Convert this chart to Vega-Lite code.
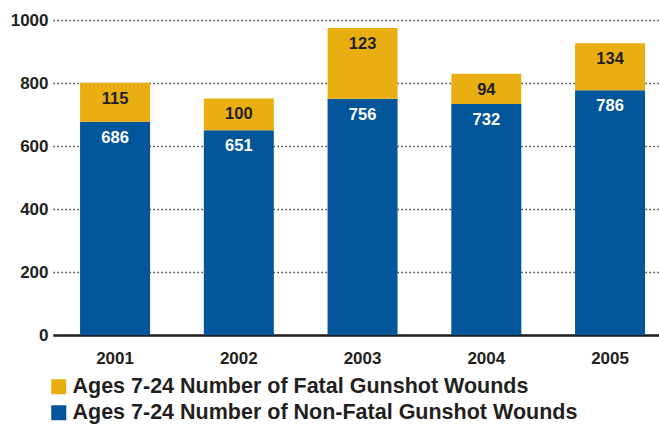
{
  "$schema": "https://vega.github.io/schema/vega-lite/v6.json",
  "width": 606,
  "height": 315,
  "autosize": "none",
  "padding": {"left": 53, "top": 20, "right": 0, "bottom": 89},
  "background": "white",
  "config": {
    "view": {"stroke": null},
    "font": "Liberation Sans",
    "text": {"font": "Liberation Sans"}
  },
  "data": {
    "values": [
      {"year": "2001", "type": "Ages 7-24 Number of Non-Fatal Gunshot Wounds", "value": 677, "label": "686"},
      {"year": "2001", "type": "Ages 7-24 Number of Fatal Gunshot Wounds", "value": 124, "label": "115"},
      {"year": "2002", "type": "Ages 7-24 Number of Non-Fatal Gunshot Wounds", "value": 650, "label": "651"},
      {"year": "2002", "type": "Ages 7-24 Number of Fatal Gunshot Wounds", "value": 101, "label": "100"},
      {"year": "2003", "type": "Ages 7-24 Number of Non-Fatal Gunshot Wounds", "value": 750, "label": "756"},
      {"year": "2003", "type": "Ages 7-24 Number of Fatal Gunshot Wounds", "value": 225, "label": "123"},
      {"year": "2004", "type": "Ages 7-24 Number of Non-Fatal Gunshot Wounds", "value": 733, "label": "732"},
      {"year": "2004", "type": "Ages 7-24 Number of Fatal Gunshot Wounds", "value": 96, "label": "94"},
      {"year": "2005", "type": "Ages 7-24 Number of Non-Fatal Gunshot Wounds", "value": 777, "label": "786"},
      {"year": "2005", "type": "Ages 7-24 Number of Fatal Gunshot Wounds", "value": 149, "label": "134"}
    ]
  },
  "encoding": {
    "x": {
      "field": "year", "type": "ordinal",
      "scale": {"paddingInner": 0.4343, "paddingOuter": 0.1657, "align": 0.66},
      "axis": {
        "title": null, "labelAngle": 0, "ticks": false,
        "domain": true, "domainColor": "#231f20", "domainWidth": 2.5,
        "labelFont": "Liberation Sans", "labelFontWeight": "bold", "labelFontSize": 17,
        "labelColor": "#231f20", "labelPadding": 15
      }
    },
    "y": {
      "field": "value", "type": "quantitative", "stack": "zero",
      "scale": {"domain": [0, 1000], "nice": false},
      "axis": {
        "title": null, "values": [0, 200, 400, 600, 800, 1000], "format": "d",
        "domain": false, "ticks": false,
        "grid": true, "gridColor": "#231f20", "gridDash": [1.3, 2.7], "gridWidth": 1.5,
        "labelFont": "Liberation Sans", "labelFontWeight": "bold", "labelFontSize": 17,
        "labelColor": "#231f20", "labelPadding": 5
      }
    },
    "order": {"field": "type", "sort": "descending"}
  },
  "layer": [
    {
      "mark": {"type": "bar"},
      "encoding": {
        "color": {
          "field": "type", "type": "nominal",
          "scale": {
            "domain": ["Ages 7-24 Number of Fatal Gunshot Wounds", "Ages 7-24 Number of Non-Fatal Gunshot Wounds"],
            "range": ["#e9ae12", "#03569a"]
          },
          "legend": {
            "title": null, "orient": "none", "legendX": -5, "legendY": 356,
            "direction": "vertical", "padding": 0,
            "symbolType": "square", "symbolSize": 225, "symbolStrokeWidth": 0, "symbolOpacity": 1,
            "labelFont": "Liberation Sans", "labelFontWeight": "bold", "labelFontSize": 21.5,
            "labelColor": "#231f20", "labelOffset": 3, "rowPadding": 3, "labelLimit": 700
          }
        }
      }
    },
    {
      "mark": {"type": "text", "dy": 16, "baseline": "middle", "align": "center", "fontWeight": "bold", "fontSize": 16.5, "font": "Liberation Sans"},
      "encoding": {
        "text": {"field": "label"},
        "color": {
          "condition": {"test": "datum.type === 'Ages 7-24 Number of Non-Fatal Gunshot Wounds'", "value": "white"},
          "value": "#231f20"
        }
      }
    }
  ]
}
